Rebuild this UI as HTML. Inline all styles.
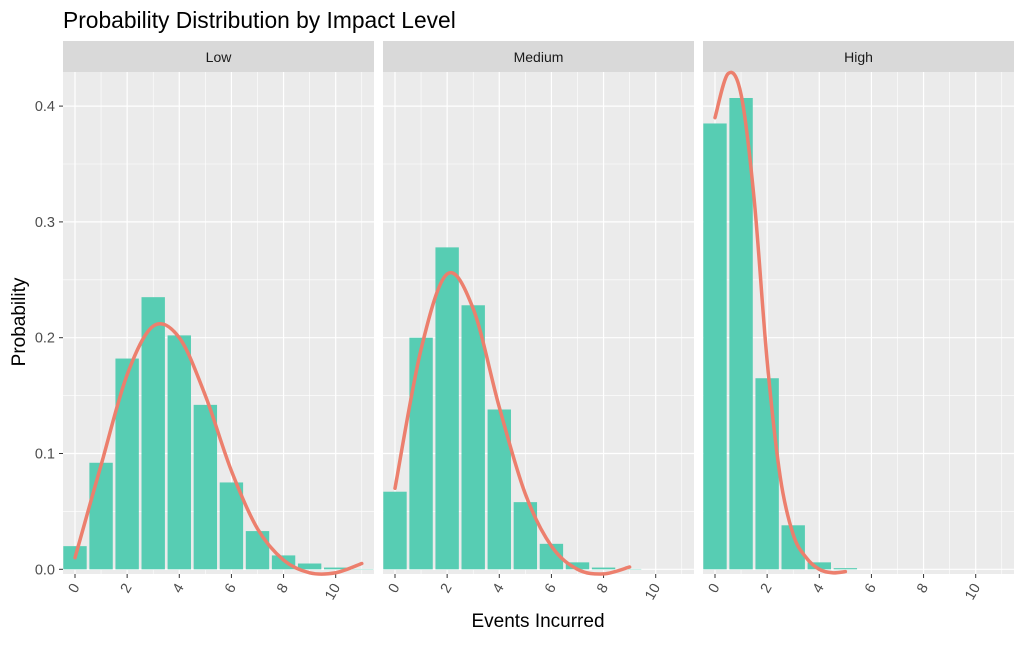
<!DOCTYPE html>
<html><head><meta charset="utf-8"><style>
body{margin:0;background:#fff;font-family:"Liberation Sans",sans-serif}
</style></head><body>
<svg id="c" width="1024" height="640" xmlns="http://www.w3.org/2000/svg">
<text x="63" y="28" font-size="22.8" fill="#000">Probability Distribution by Impact Level</text>
<text x="538" y="627" font-size="19" text-anchor="middle" fill="#000">Events Incurred</text>
<text transform="translate(25,322) rotate(-90)" font-size="19" text-anchor="middle" fill="#000">Probability</text>
<g id="g"></g>
</svg>
<script>
const panels = ["Low", "Medium", "High"];
const events = [0,1,2,3,4,5,6,7,8,9,10,11];
const lowProb = [0.02,0.092,0.182,0.235,0.202,0.142,0.075,0.033,0.012,0.005,0.0015,0.0003];
const medProb = [0.067,0.2,0.278,0.228,0.138,0.058,0.022,0.006,0.0015,0.0003,0,0];
const highProb = [0.385,0.407,0.165,0.038,0.006,0.001,0,0,0,0,0,0];
const lowCurveX = [0,1,2,3,4,5,6,7,8,9,10,11];
const lowCurveY = [0.01,0.09,0.168,0.21,0.2,0.15,0.085,0.035,0.008,-0.003,-0.003,0.005];
const medCurveX = [0,1,2,3,4,5,6,7,8,9];
const medCurveY = [0.07,0.19,0.255,0.225,0.14,0.065,0.02,0.0,-0.004,0.002];
const highCurveX = [0,0.5,1,1.5,2,2.5,3,3.5,4,4.5,5];
const highCurveY = [0.39,0.428,0.41,0.32,0.18,0.08,0.03,0.01,0.0,-0.003,-0.002];
const yTicks = [0,0.1,0.2,0.3,0.4];
const yTickLabels = ["0.0","0.1","0.2","0.3","0.4"];
const xTicks = [0,2,4,6,8,10];

const probs=[lowProb,medProb,highProb];
const cxs=[lowCurveX,medCurveX,highCurveX], cys=[lowCurveY,medCurveY,highCurveY];
const NS="http://www.w3.org/2000/svg", g=document.getElementById('g');
function mk(t,a,p){const e=document.createElementNS(NS,t);for(const k in a)e.setAttribute(k,a[k]);(p||g).appendChild(e);return e;}
const pxPerX=26.07, plotTop=72, plotBot=574;
const yS=v=>569.3-v*1158;
const panelLeft=[63,383,703], pw=311;
for(let p=0;p<3;p++){
  const L=panelLeft[p], xS=v=>L+12+v*pxPerX;
  const pg=mk('g',{});
  
  
  mk('rect',{x:L,y:plotTop,width:pw,height:plotBot-plotTop,fill:'#ebebeb'},pg);
  const st=mk('rect',{x:L,y:41,width:pw,height:31,fill:'#d9d9d9'},pg);
  
  
  const stt=mk('text',{x:L+pw/2,y:62,'font-size':14,'text-anchor':'middle',fill:'#1a1a1a'},pg);stt.textContent=panels[p];
  
  
  for(let v=0.05;v<0.43;v+=0.1) mk('line',{x1:L,x2:L+pw,y1:yS(v),y2:yS(v),stroke:'#fff','stroke-width':0.6},pg);
  for(let v=1;v<=11;v+=2) mk('line',{x1:xS(v),x2:xS(v),y1:plotTop,y2:plotBot,stroke:'#fff','stroke-width':0.6},pg);
  yTicks.forEach(v=>mk('line',{x1:L,x2:L+pw,y1:yS(v),y2:yS(v),stroke:'#fff','stroke-width':1.2},pg));
  xTicks.forEach(v=>{mk('line',{x1:xS(v),x2:xS(v),y1:plotTop,y2:plotBot,stroke:'#fff','stroke-width':1.2},pg);
    mk('line',{x1:xS(v),x2:xS(v),y1:plotBot,y2:plotBot+4,stroke:'#333','stroke-width':1},pg);
    const t=mk('text',{transform:`translate(${xS(v)+5},${plotBot+13}) rotate(-60)`,'font-size':14.5,'text-anchor':'end',fill:'#4d4d4d'},pg);t.textContent=v;
    
    });
  events.forEach((e,i)=>{const v=probs[p][i];if(v<=0)return;
    const b=mk('rect',{x:xS(e)-11.7,y:yS(v),width:23.4,height:yS(0)-yS(v),fill:'#57cdb3'},pg);
    
    });
  const X=cxs[p].map(xS), Y=cys[p].map(yS);
  let d=`M${X[0]},${Y[0]}`;
  for(let i=0;i<X.length-1;i++){const i0=Math.max(0,i-1),i2=i+1,i3=Math.min(X.length-1,i+2);
    d+=` C${X[i]+(X[i2]-X[i0])/6},${Y[i]+(Y[i2]-Y[i0])/6} ${X[i2]-(X[i3]-X[i])/6},${Y[i2]-(Y[i3]-Y[i])/6} ${X[i2]},${Y[i2]}`;}
  const c=mk('path',{d:d,fill:'none',stroke:'#ec7f6d','stroke-width':3.5,'stroke-linecap':'round'},pg);
  
  
}
yTicks.forEach((v,i)=>{mk('line',{x1:59,x2:63,y1:yS(v),y2:yS(v),stroke:'#333'});
  const t=mk('text',{x:55,y:yS(v)+5,'font-size':14.5,'text-anchor':'end',fill:'#4d4d4d'});t.textContent=yTickLabels[i];
  
  });
</script>
</body></html>
